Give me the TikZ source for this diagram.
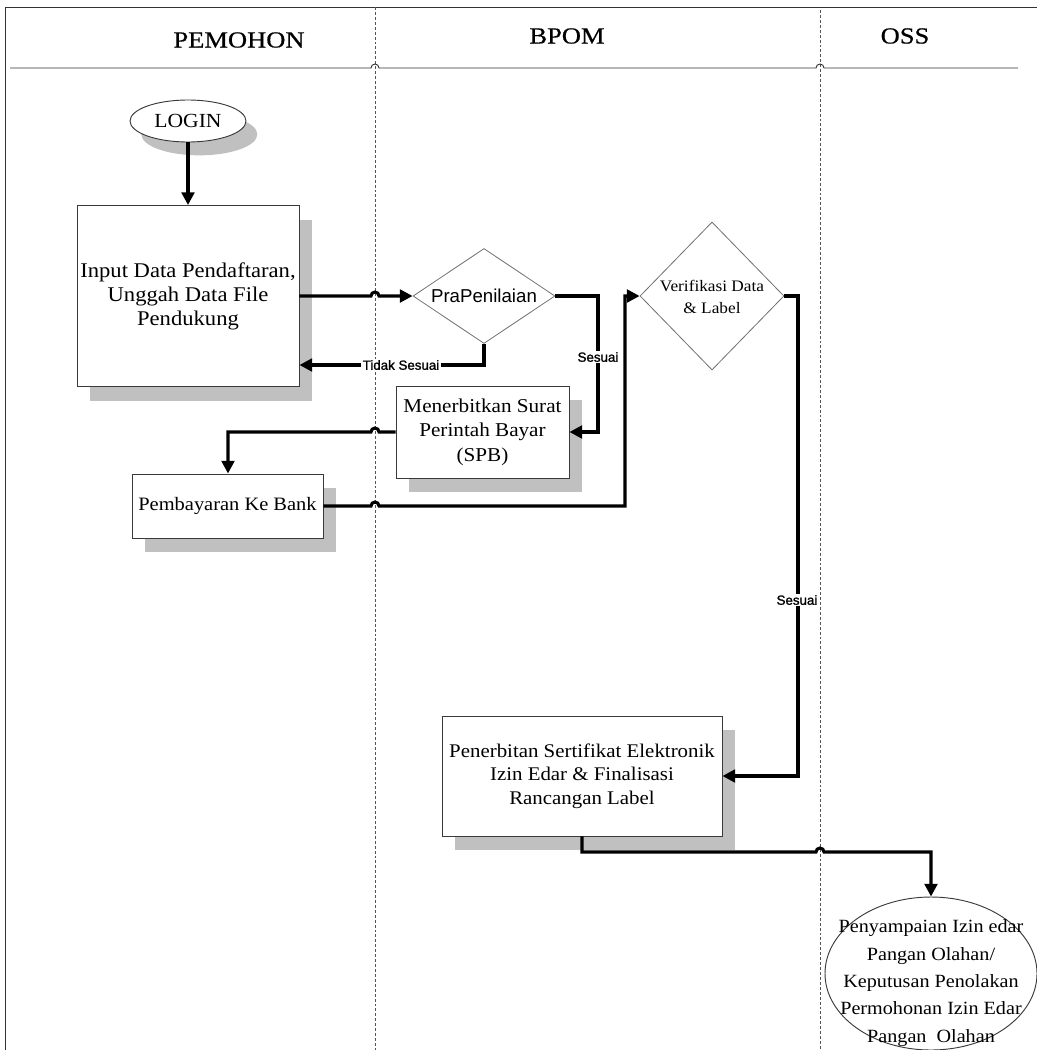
\documentclass[tikz,border=0pt]{standalone}
\usepackage{fontspec}
\setmainfont{Liberation Serif}[FakeStretch=1.08]
\newfontfamily\sansf{Liberation Sans}
\newfontfamily\lblf{Liberation Sans}[FakeBold=1.3]
\newfontfamily\hdrf{Liberation Serif}[FakeStretch=1.15,FakeBold=0.6]
\usetikzlibrary{shapes.geometric,arrows.meta,shadows,calc}
\definecolor{shadowgray}{HTML}{C0C0C0}
\definecolor{edgegray}{HTML}{3A3A3A}
\definecolor{diagray}{HTML}{707070}
\definecolor{lanegray}{HTML}{555555}
\begin{document}
\begin{tikzpicture}[x=0.75pt,y=-0.75pt,
  boxshadow/.style={drop shadow={shadow xshift=9.5pt, shadow yshift=-10.5pt, fill=shadowgray, opacity=1}},
  procbox/.style={rectangle, draw=edgegray, line width=0.7pt, fill=white, inner sep=0.5pt, align=center,
    font=\fontsize{15}{18.2}\selectfont, boxshadow},
  startell/.style={ellipse, draw=edgegray, line width=0.7pt, fill=white, inner sep=0pt,
    font=\fontsize{15}{18}\selectfont, drop shadow={shadow xshift=8.5pt, shadow yshift=-10pt, fill=shadowgray, opacity=1}},
  endell/.style={ellipse, draw=edgegray, line width=0.7pt, fill=white, inner sep=0pt},
  decision/.style={diamond, draw=diagray, line width=0.6pt, fill=white, inner sep=0pt, align=center},
  hdr/.style={font=\hdrf\fontsize{17.3}{20}\selectfont},
  flow/.style={line width=2.3pt, -{Triangle[length=9.5pt,width=9.5pt]}},
  lbl/.style={fill=white, inner sep=1pt, font=\lblf\fontsize{10}{12}\selectfont},
  lane/.style={draw=lanegray, line width=0.5pt, dash pattern=on 2.2pt off 1.5pt},
  frame/.style={draw=black!80, line width=0.7pt}
]
\useasboundingbox (0,0) rectangle (1037,1050);

% frame and lanes
\draw[frame] (5,1050) -- (5,7) -- (1037,7);
\draw[lane] (375,7) -- (375,1050);
\draw[lane] (820,10) -- (820,1050);
\draw[frame] (10,68) -- (371,68) arc[start angle=180,end angle=360,radius=4]
  -- (816,68) arc[start angle=180,end angle=360,radius=4] -- (1018,68);

% headers
\node[hdr] (hpem) at (239,40) {PEMOHON};
\node[hdr] (hbpom) at (567,36) {BPOM};
\node[hdr] (hoss) at (905,36) {OSS};

% nodes
\node[startell, minimum width=87pt, minimum height=31.5pt] (login) at (188,121) {LOGIN};
\node[procbox, minimum width=166.5pt, minimum height=135.75pt, font=\fontsize{15.7}{18}\selectfont] (input) at (188,296)
  {Input Data Pendaftaran,\\Unggah Data File\\Pendukung};
\node[decision, minimum width=106.5pt, minimum height=71.25pt, aspect=1.5,
  font=\sansf\fontsize{14}{16}\selectfont] (pra) at (484,296) {PraPenilaian};
\node[procbox, minimum width=129.75pt, minimum height=69pt, font=\fontsize{14.7}{18.3}\selectfont] (spb) at (482.5,432)
  {Menerbitkan Surat\\Perintah Bayar\\(SPB)};
\node[procbox, minimum width=143.25pt, minimum height=48pt, font=\fontsize{14.2}{17}\selectfont] (pay) at (227.5,506) {Pembayaran Ke Bank};
\node[decision, minimum width=108pt, minimum height=111pt, aspect=1] (verif) at (712,296) {};
\node[align=center, inner sep=0pt, font=\fontsize{12}{17}\selectfont] (veriftxt) at (712,297)
  {Verifikasi Data\\\& Label};
\node[procbox, minimum width=210pt, minimum height=90pt, font=\fontsize{14.5}{17.6}\selectfont] (pen) at (582,776)
  {Penerbitan Sertifikat Elektronik\\Izin Edar \& Finalisasi\\Rancangan Label};
\node[endell, minimum width=159pt, minimum height=114.75pt] (out) at (931,973.5) {};
\node[align=center, font=\fontsize{14}{20.6}\selectfont, inner sep=0pt] (outtxt) at (931,983)
  {Penyampaian Izin edar\\Pangan Olahan/\\Keputusan Penolakan\\Permohonan Izin Edar\\Pangan~ Olahan};

% connectors
\draw[flow] (login.south) -- (input.north);
\draw[flow] (input.east) -- (371,296) arc[start angle=180,end angle=360,radius=4] -- (pra.west);
\draw[flow] (pra.south) -- (484,365) -- (input.east |- 0,365);
\draw[flow] (pra.east) -- (598,296) -- (598,432) -- (spb.east);
\draw[flow] (spb.west) -- (379,432) arc[start angle=0,end angle=-180,radius=4] -- (228,432) -- (pay.north -| 228,0);
\draw[flow] (pay.east) -- (371,506) arc[start angle=180,end angle=360,radius=4] -- (625,506) -- (625,296) -- (verif.west);
\draw[flow] (verif.east) -- (798,296) -- (798,776) -- (pen.east);
\draw[flow] (pen.south) -- (582,852) -- (816,852) arc[start angle=180,end angle=360,radius=4] -- (931,852) -- (out.north);

% labels
\node[lbl] (ltidak) at (401,365) {Tidak Sesuai};
\node[lbl] (lses1) at (598,357) {Sesuai};
\node[lbl] (lses2) at (797,600) {Sesuai};
\end{tikzpicture}
\end{document}
